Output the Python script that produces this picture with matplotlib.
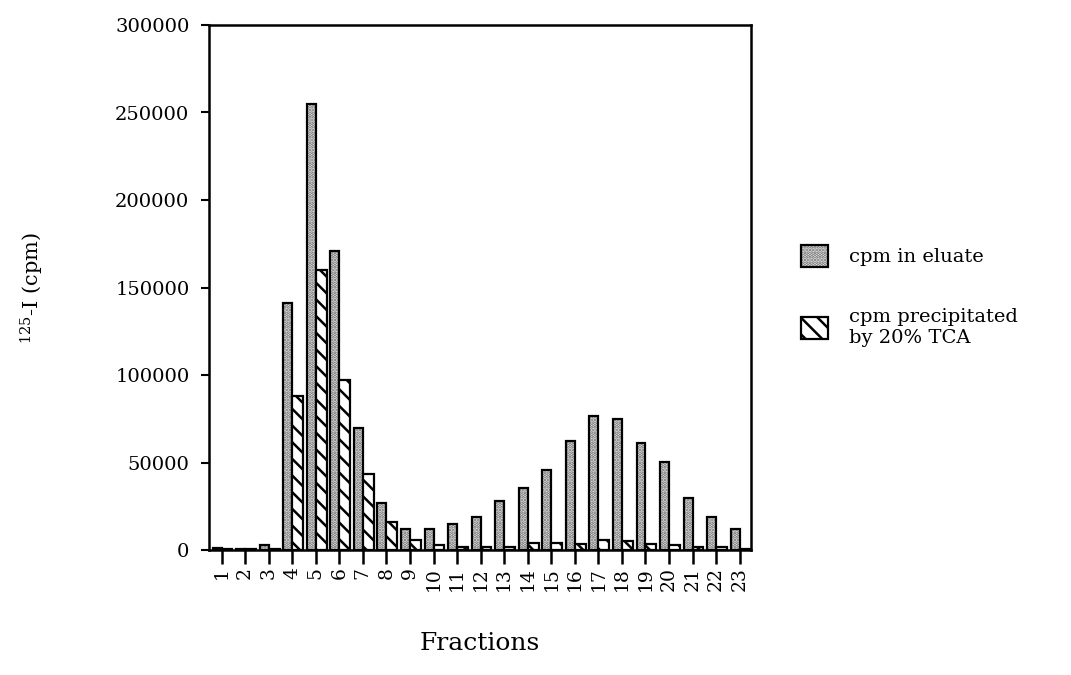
import matplotlib
matplotlib.use("Agg")
import matplotlib.pyplot as plt
import numpy as np

# Fraction numbers and counts per fraction
fractions = list(range(1, 24))
cpm_eluate = [1000, 800, 3000, 141000, 255000, 171000, 70000, 27000, 12000, 12000,
              15000, 19000, 28000, 35500, 46000, 62500, 76500, 75000, 61000, 50500,
              30000, 19000, 12000]
cpm_tca = [500, 500, 500, 88000, 160000, 97000, 43500, 16000, 5500, 3000,
           2000, 2000, 2000, 4000, 4000, 3500, 5500, 5000, 3500, 3000,
           2000, 1500, 800]

plt.rcParams['font.family'] = ['DejaVu Serif']
plt.rcParams['mathtext.fontset'] = 'dejavuserif'
plt.rcParams['hatch.linewidth'] = 1.8

fig = plt.figure(figsize=(10.71, 6.75), dpi=100)
ax = fig.add_axes([0.195, 0.185, 0.506, 0.778])

x = np.array(fractions)
# stippled fill first, then the black outline on top
dots = ax.bar(x, cpm_eluate, width=-0.38, align='edge', facecolor='#eeeeee',
              edgecolor='#6a6a6a', linewidth=0, hatch='.....')
outline = ax.bar(x, cpm_eluate, width=-0.38, align='edge', fill=False,
                 edgecolor='black', linewidth=1.6)
stripes = ax.bar(x, cpm_tca, width=0.46, align='edge', facecolor='white',
                 edgecolor='black', linewidth=1.6, hatch='\\\\')

ax.set_xlim(0.46, 23.47)
ax.set_ylim(0, 300000)
ax.set_xticks(fractions)
ax.set_xticklabels([str(f) for f in fractions], rotation=90, fontsize=13.5)
ax.set_yticks(range(0, 300001, 50000))
ax.set_yticklabels([str(v) for v in range(0, 300001, 50000)], fontsize=14)
ax.tick_params(axis='x', direction='out', length=10, width=1.8, pad=2)
ax.tick_params(axis='y', direction='out', length=6, width=1.5, pad=8)
for s in ax.spines.values():
    s.set_linewidth(1.8)

ax.set_xlabel('Fractions', fontsize=18, labelpad=30)
ax.set_ylabel('$^{125}$-I (cpm)', fontsize=15, labelpad=50)

ax.legend([(dots[0], outline[0]), stripes[0]],
          ['cpm in eluate', 'cpm precipitated\nby 20% TCA'],
          loc='upper left', bbox_to_anchor=(1.06, 0.615), frameon=False,
          fontsize=14, handlelength=1.4, handleheight=1.4, handletextpad=1.1,
          labelspacing=2.1)

fig.savefig('out.png', dpi=100)
